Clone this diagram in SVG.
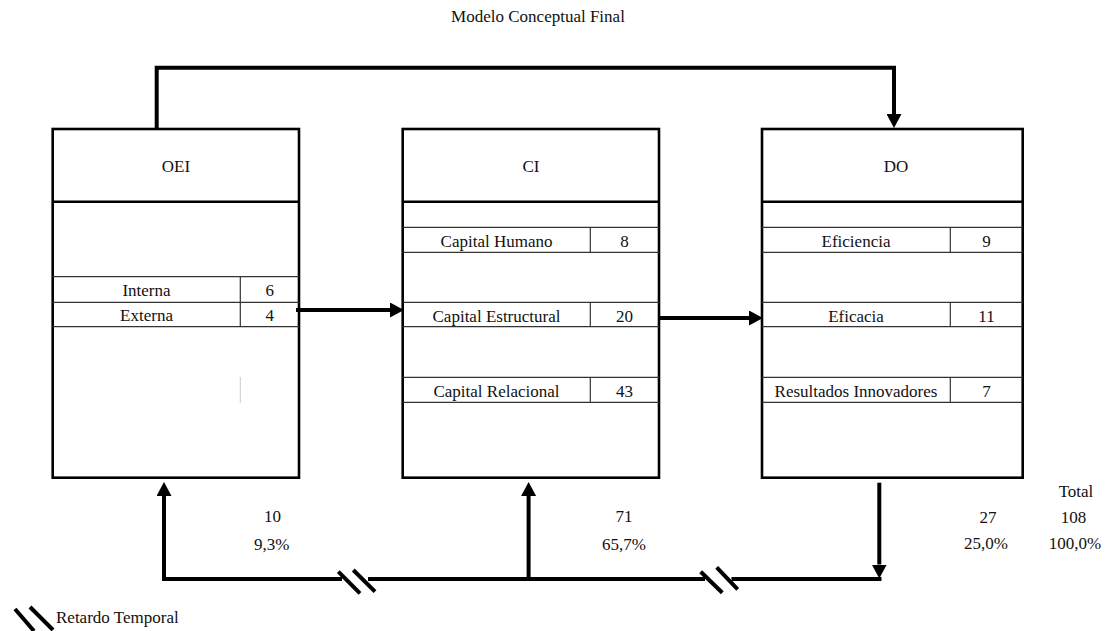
<svg xmlns="http://www.w3.org/2000/svg" width="1108" height="631" viewBox="0 0 1108 631" font-family="'Liberation Serif', 'Times New Roman', 'DejaVu Serif', serif">
<defs>
<style>
text{font-family:'Liberation Serif','Times New Roman','DejaVu Serif',serif;font-size:17px;fill:#111;}
.c{text-anchor:middle;}
.box{fill:#fff;stroke:#000;stroke-width:2.6;}
.hdr{stroke:#000;stroke-width:2.6;}
.row{stroke:#333;stroke-width:1.2;fill:none;}
.con{stroke:#000;stroke-width:4;fill:none;}
.slash{stroke:#000;stroke-width:4;stroke-linecap:butt;}
</style>
<marker id="ah" markerUnits="userSpaceOnUse" markerWidth="14" markerHeight="15" refX="0" refY="7.5" orient="auto">
<path d="M0,0 L14,7.5 L0,15 z" fill="#000"/>
</marker>
</defs>
<rect width="1108" height="631" fill="#fff"/>
<text class="c" x="538" y="21.5">Modelo Conceptual Final</text>

<g id="node-OEI">
<rect class="box" x="52.7" y="129" width="246.3" height="348.7"/>
<line class="hdr" x1="52.7" y1="201.7" x2="299" y2="201.7"/>
<line class="row" x1="52.7" y1="276.7" x2="299" y2="276.7"/>
<line class="row" x1="52.7" y1="302.3" x2="299" y2="302.3"/>
<line class="row" x1="52.7" y1="326.7" x2="299" y2="326.7"/>
<line class="row" x1="240.3" y1="276.7" x2="240.3" y2="326.7"/>
<line x1="240.3" y1="377" x2="240.3" y2="403" stroke="#ccc" stroke-width="1"/>
<text class="c" x="176" y="172.3">OEI</text>
<text class="c" x="146.5" y="296">Interna</text>
<text class="c" x="269.7" y="296">6</text>
<text class="c" x="146.5" y="320.5">Externa</text>
<text class="c" x="269.7" y="320.5">4</text>
</g>

<g id="node-CI">
<rect class="box" x="402.7" y="129" width="256.3" height="348.7"/>
<line class="hdr" x1="402.7" y1="201.7" x2="659" y2="201.7"/>
<line class="row" x1="402.7" y1="227.3" x2="659" y2="227.3"/>
<line class="row" x1="402.7" y1="252.3" x2="659" y2="252.3"/>
<line class="row" x1="402.7" y1="302.3" x2="659" y2="302.3"/>
<line class="row" x1="402.7" y1="326.7" x2="659" y2="326.7"/>
<line class="row" x1="402.7" y1="377.3" x2="659" y2="377.3"/>
<line class="row" x1="402.7" y1="402.3" x2="659" y2="402.3"/>
<line class="row" x1="590.3" y1="227.3" x2="590.3" y2="252.3"/>
<line class="row" x1="590.3" y1="302.3" x2="590.3" y2="326.7"/>
<line class="row" x1="590.3" y1="377.3" x2="590.3" y2="402.3"/>
<text class="c" x="531" y="172.3">CI</text>
<text class="c" x="496.5" y="246.7">Capital Humano</text>
<text class="c" x="624.6" y="246.7">8</text>
<text class="c" x="496.5" y="321.7">Capital Estructural</text>
<text class="c" x="624.6" y="321.7">20</text>
<text class="c" x="496.5" y="396.7">Capital Relacional</text>
<text class="c" x="624.6" y="396.7">43</text>
</g>

<g id="node-DO">
<rect class="box" x="762" y="129" width="260.7" height="348.7"/>
<line class="hdr" x1="762" y1="201.7" x2="1024" y2="201.7"/>
<line class="row" x1="762" y1="227.3" x2="1022.7" y2="227.3"/>
<line class="row" x1="762" y1="252.3" x2="1022.7" y2="252.3"/>
<line class="row" x1="762" y1="302.3" x2="1022.7" y2="302.3"/>
<line class="row" x1="762" y1="326.7" x2="1022.7" y2="326.7"/>
<line class="row" x1="762" y1="377.3" x2="1022.7" y2="377.3"/>
<line class="row" x1="762" y1="402.3" x2="1022.7" y2="402.3"/>
<line class="row" x1="950.3" y1="227.3" x2="950.3" y2="252.3"/>
<line class="row" x1="950.3" y1="302.3" x2="950.3" y2="326.7"/>
<line class="row" x1="950.3" y1="377.3" x2="950.3" y2="402.3"/>
<text class="c" x="896" y="172.3">DO</text>
<text class="c" x="856" y="246.7">Eficiencia</text>
<text class="c" x="986.5" y="246.7">9</text>
<text class="c" x="856" y="321.7">Eficacia</text>
<text class="c" x="986.5" y="321.7">11</text>
<text class="c" x="856" y="396.7">Resultados Innovadores</text>
<text class="c" x="986.5" y="396.7">7</text>
</g>

<g id="connectors">
<path class="con" d="M156.7,128 V67.7 H894 V114" marker-end="url(#ah)"/>
<path class="con" d="M296,310 H390" marker-end="url(#ah)"/>
<path class="con" d="M659,318 H749" marker-end="url(#ah)"/>
<path class="con" d="M164,581 V496" marker-end="url(#ah)"/>
<path class="con" d="M528.6,581 V496" marker-end="url(#ah)"/>
<path class="con" d="M879.3,482.7 V564.5" marker-end="url(#ah)"/>
<path class="con" d="M162,579 H342 M368,579 H705 M731.5,579 H881.5"/>
<line class="slash" x1="338.3" y1="571.7" x2="360" y2="593.3"/>
<line class="slash" x1="353.3" y1="570" x2="375" y2="591.7"/>
<line class="slash" x1="700.7" y1="571.7" x2="722.3" y2="592.7"/>
<line class="slash" x1="716.7" y1="567.3" x2="737.7" y2="589.3"/>
</g>

<g id="labels">
<text class="c" x="272.5" y="521.7">10</text>
<text class="c" x="271.7" y="550">9,3%</text>
<text class="c" x="624" y="521.7">71</text>
<text class="c" x="624" y="550">65,7%</text>
<text class="c" x="988" y="523">27</text>
<text class="c" x="986" y="549">25,0%</text>
<text class="c" x="1076" y="497.3">Total</text>
<text class="c" x="1073.5" y="523">108</text>
<text class="c" x="1075" y="549">100,0%</text>
</g>

<g id="legend">
<line class="slash" x1="15" y1="609" x2="34" y2="631"/>
<line class="slash" x1="30" y1="607" x2="53" y2="630"/>
<text x="56" y="622.7">Retardo Temporal</text>
</g>
</svg>
